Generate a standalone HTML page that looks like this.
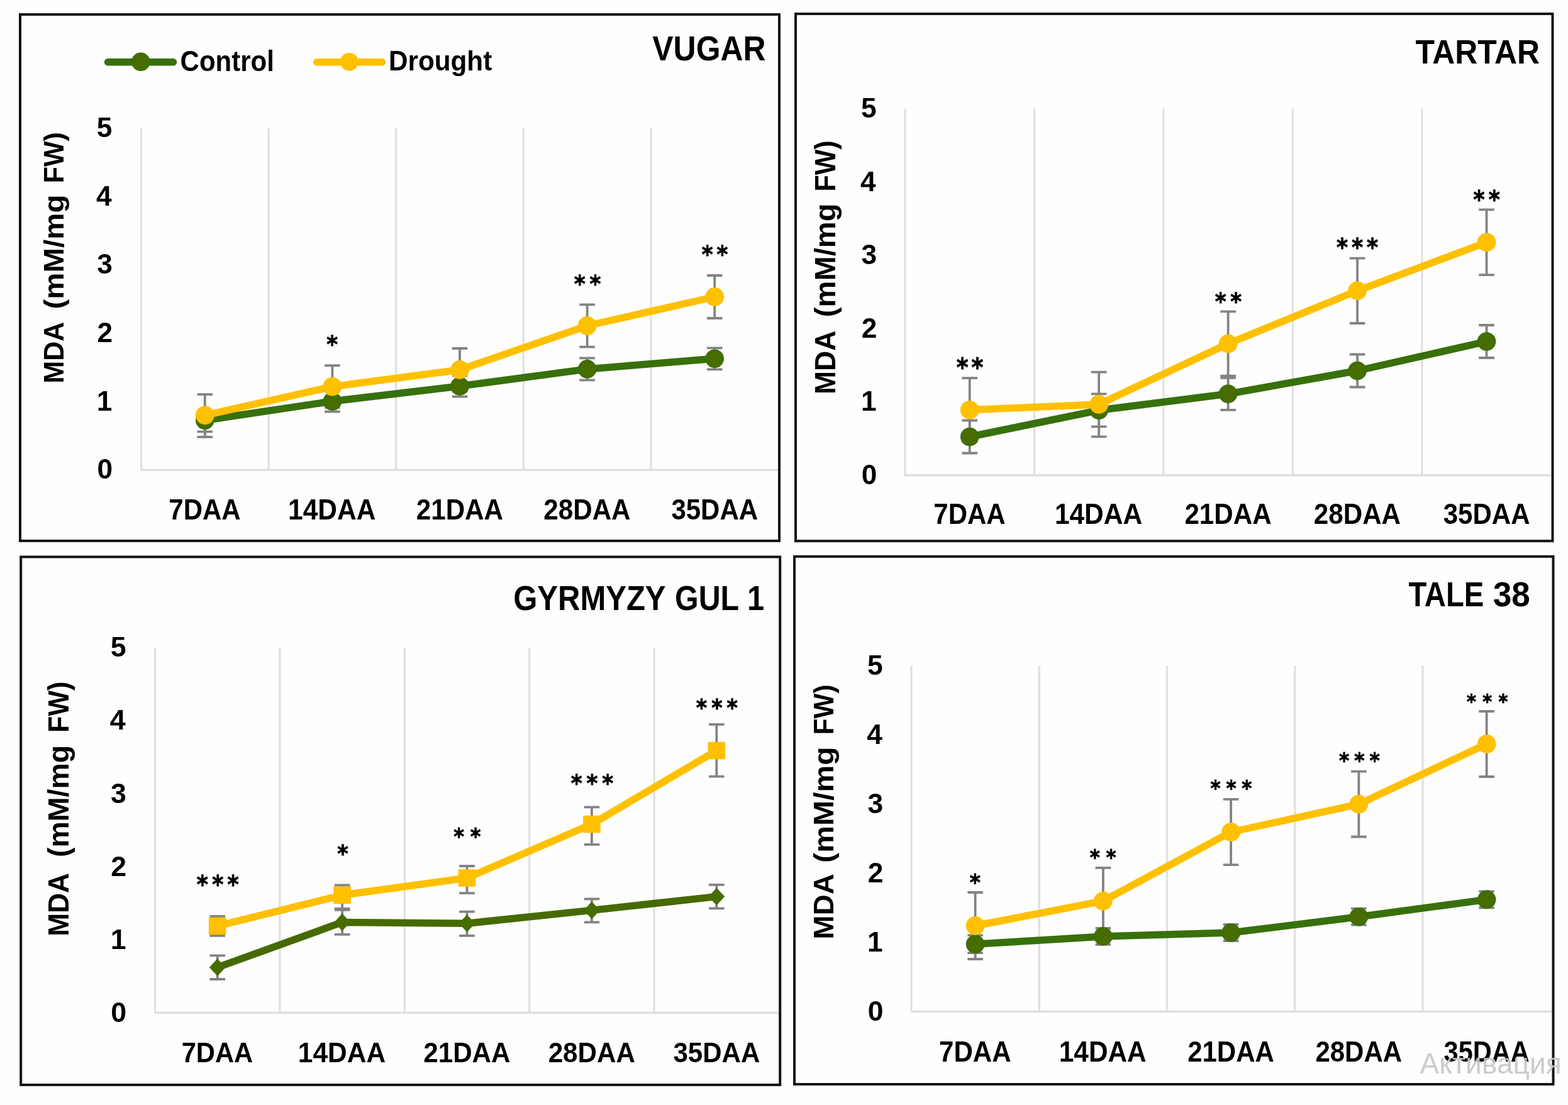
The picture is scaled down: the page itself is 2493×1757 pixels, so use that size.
<!DOCTYPE html>
<html><head><meta charset="utf-8"><title>MDA content under drought</title>
<style>html,body{margin:0;padding:0;background:#fff;}body{width:2493px;height:1757px;overflow:hidden;}svg{display:block;filter:blur(0.55px)}</style>
</head><body>
<svg width="2493" height="1757" viewBox="0 0 2493 1757">
<rect width="2493" height="1757" fill="#fefefe"/>
<rect x="32" y="23" width="1207" height="837" fill="none" stroke="#141414" stroke-width="4"/>
<line x1="224.5" y1="203.7" x2="224.5" y2="747.2" stroke="#e0e0e0" stroke-width="3.2"/>
<line x1="427.1" y1="203.7" x2="427.1" y2="747.2" stroke="#e0e0e0" stroke-width="3.2"/>
<line x1="629.7" y1="203.7" x2="629.7" y2="747.2" stroke="#e0e0e0" stroke-width="3.2"/>
<line x1="832.3" y1="203.7" x2="832.3" y2="747.2" stroke="#e0e0e0" stroke-width="3.2"/>
<line x1="1034.9" y1="203.7" x2="1034.9" y2="747.2" stroke="#e0e0e0" stroke-width="3.2"/>
<line x1="223.25" y1="747.2" x2="1237" y2="747.2" stroke="#e0e0e0" stroke-width="3.6"/>
<text x="154.54" y="761.45" font-family="'Liberation Sans', Arial, sans-serif" font-weight="bold" font-size="44.2" fill="#000">0</text>
<text x="153.87" y="652.75" font-family="'Liberation Sans', Arial, sans-serif" font-weight="bold" font-size="44.2" fill="#000">1</text>
<text x="154.54" y="544.05" font-family="'Liberation Sans', Arial, sans-serif" font-weight="bold" font-size="44.2" fill="#000">2</text>
<text x="154.31" y="435.35" font-family="'Liberation Sans', Arial, sans-serif" font-weight="bold" font-size="44.2" fill="#000">3</text>
<text x="152.99" y="326.65" font-family="'Liberation Sans', Arial, sans-serif" font-weight="bold" font-size="44.2" fill="#000">4</text>
<text x="153.87" y="217.95" font-family="'Liberation Sans', Arial, sans-serif" font-weight="bold" font-size="44.2" fill="#000">5</text>
<text transform="translate(100.5,609.38) rotate(-90)" x="0" y="0" font-family="'Liberation Sans', Arial, sans-serif" font-weight="bold" font-size="44.2" fill="#000" textLength="97.55" lengthAdjust="spacingAndGlyphs" style="white-space:pre">MDA</text>
<text transform="translate(100.5,491.56) rotate(-90)" x="0" y="0" font-family="'Liberation Sans', Arial, sans-serif" font-weight="bold" font-size="44.2" fill="#000" textLength="182.02" lengthAdjust="spacingAndGlyphs" style="white-space:pre">(mM/mg</text>
<text transform="translate(100.5,291.19) rotate(-90)" x="0" y="0" font-family="'Liberation Sans', Arial, sans-serif" font-weight="bold" font-size="44.2" fill="#000" textLength="81.04" lengthAdjust="spacingAndGlyphs" style="white-space:pre">FW)</text>
<text x="268.37" y="825.6" font-family="'Liberation Sans', Arial, sans-serif" font-weight="bold" font-size="46.67" fill="#000" textLength="114.34" lengthAdjust="spacingAndGlyphs" >7DAA</text>
<text x="458.1" y="825.6" font-family="'Liberation Sans', Arial, sans-serif" font-weight="bold" font-size="46.67" fill="#000" textLength="139.28" lengthAdjust="spacingAndGlyphs" >14DAA</text>
<text x="661.77" y="825.6" font-family="'Liberation Sans', Arial, sans-serif" font-weight="bold" font-size="46.67" fill="#000" textLength="138.19" lengthAdjust="spacingAndGlyphs" >21DAA</text>
<text x="864.37" y="825.6" font-family="'Liberation Sans', Arial, sans-serif" font-weight="bold" font-size="46.67" fill="#000" textLength="138.19" lengthAdjust="spacingAndGlyphs" >28DAA</text>
<text x="1067.4" y="825.6" font-family="'Liberation Sans', Arial, sans-serif" font-weight="bold" font-size="46.67" fill="#000" textLength="137.76" lengthAdjust="spacingAndGlyphs" >35DAA</text>
<text x="1037.35" y="96.4" font-family="'Liberation Sans', Arial, sans-serif" font-weight="bold" font-size="55.22" fill="#000" textLength="180.12" lengthAdjust="spacingAndGlyphs" >VUGAR</text>
<path d="M325.8,653.7V686.3M313.5,653.7H338.1M313.5,686.3H338.1" stroke="#838383" stroke-width="3.8" fill="none"/>
<path d="M325.8,627.2V694.8M313.5,627.2H338.1M313.5,694.8H338.1" stroke="#838383" stroke-width="3.8" fill="none"/>
<path d="M528.4,621.5V654.5M516.1,621.5H540.7M516.1,654.5H540.7" stroke="#838383" stroke-width="3.8" fill="none"/>
<path d="M528.4,581.2V648.2M516.1,581.2H540.7M516.1,648.2H540.7" stroke="#838383" stroke-width="3.8" fill="none"/>
<path d="M731,597.3V630.7M718.7,597.3H743.3M718.7,630.7H743.3" stroke="#838383" stroke-width="3.8" fill="none"/>
<path d="M731,554V622M718.7,554H743.3M718.7,622H743.3" stroke="#838383" stroke-width="3.8" fill="none"/>
<path d="M933.6,569.4V604.4M921.3,569.4H945.9M921.3,604.4H945.9" stroke="#838383" stroke-width="3.8" fill="none"/>
<path d="M933.6,484.3V551.7M921.3,484.3H945.9M921.3,551.7H945.9" stroke="#838383" stroke-width="3.8" fill="none"/>
<path d="M1136.2,553.3V587.3M1123.9,553.3H1148.5M1123.9,587.3H1148.5" stroke="#838383" stroke-width="3.8" fill="none"/>
<path d="M1136.2,438V506M1123.9,438H1148.5M1123.9,506H1148.5" stroke="#838383" stroke-width="3.8" fill="none"/>
<polyline points="325.8,668.2 528.4,638 731,614 933.6,586.9 1136.2,570.3" fill="none" stroke="#38700c" stroke-width="11.5" stroke-linejoin="round" stroke-linecap="round"/>
<circle cx="325.8" cy="668.2" r="13.8" fill="#476c00" stroke="#38700c" stroke-width="2"/>
<circle cx="528.4" cy="638" r="13.8" fill="#476c00" stroke="#38700c" stroke-width="2"/>
<circle cx="731" cy="614" r="13.8" fill="#476c00" stroke="#38700c" stroke-width="2"/>
<circle cx="933.6" cy="586.9" r="13.8" fill="#476c00" stroke="#38700c" stroke-width="2"/>
<circle cx="1136.2" cy="570.3" r="13.8" fill="#476c00" stroke="#38700c" stroke-width="2"/>
<polyline points="325.8,660.3 528.4,614.7 731,588 933.6,518 1136.2,472" fill="none" stroke="#ffc000" stroke-width="11.5" stroke-linejoin="round" stroke-linecap="round"/>
<circle cx="325.8" cy="660.3" r="14.9" fill="#ffc000"/>
<circle cx="528.4" cy="614.7" r="14.9" fill="#ffc000"/>
<circle cx="731" cy="588" r="14.9" fill="#ffc000"/>
<circle cx="933.6" cy="518" r="14.9" fill="#ffc000"/>
<circle cx="1136.2" cy="472" r="14.9" fill="#ffc000"/>
<text transform="translate(528,560.46) scale(0.9,1)" x="-9.84" y="0" font-family="'DejaVu Sans', 'Liberation Sans', sans-serif" font-weight="bold" font-size="37.85" fill="#000" stroke="#000" stroke-width="0.9" stroke-linejoin="round">*</text>
<text transform="translate(921.63,463.62) scale(0.9,1)" x="-9.9" y="0" font-family="'DejaVu Sans', 'Liberation Sans', sans-serif" font-weight="bold" font-size="38.06" fill="#000" stroke="#000" stroke-width="0.9" stroke-linejoin="round">*</text>
<text transform="translate(946.37,463.62) scale(0.9,1)" x="-9.9" y="0" font-family="'DejaVu Sans', 'Liberation Sans', sans-serif" font-weight="bold" font-size="38.06" fill="#000" stroke="#000" stroke-width="0.9" stroke-linejoin="round">*</text>
<text transform="translate(1124.58,417.46) scale(0.9,1)" x="-9.84" y="0" font-family="'DejaVu Sans', 'Liberation Sans', sans-serif" font-weight="bold" font-size="37.85" fill="#000" stroke="#000" stroke-width="0.9" stroke-linejoin="round">*</text>
<text transform="translate(1148.42,417.46) scale(0.9,1)" x="-9.84" y="0" font-family="'DejaVu Sans', 'Liberation Sans', sans-serif" font-weight="bold" font-size="37.85" fill="#000" stroke="#000" stroke-width="0.9" stroke-linejoin="round">*</text>
<rect x="1265" y="22" width="1203.5" height="838.2" fill="none" stroke="#141414" stroke-width="4"/>
<line x1="1439" y1="172.7" x2="1439" y2="755.6" stroke="#e0e0e0" stroke-width="3.2"/>
<line x1="1644.45" y1="172.7" x2="1644.45" y2="755.6" stroke="#e0e0e0" stroke-width="3.2"/>
<line x1="1849.9" y1="172.7" x2="1849.9" y2="755.6" stroke="#e0e0e0" stroke-width="3.2"/>
<line x1="2055.35" y1="172.7" x2="2055.35" y2="755.6" stroke="#e0e0e0" stroke-width="3.2"/>
<line x1="2260.8" y1="172.7" x2="2260.8" y2="755.6" stroke="#e0e0e0" stroke-width="3.2"/>
<line x1="1437.75" y1="755.6" x2="2466" y2="755.6" stroke="#e0e0e0" stroke-width="3.6"/>
<text x="1369.64" y="769.85" font-family="'Liberation Sans', Arial, sans-serif" font-weight="bold" font-size="44.2" fill="#000">0</text>
<text x="1368.97" y="653.27" font-family="'Liberation Sans', Arial, sans-serif" font-weight="bold" font-size="44.2" fill="#000">1</text>
<text x="1369.64" y="536.69" font-family="'Liberation Sans', Arial, sans-serif" font-weight="bold" font-size="44.2" fill="#000">2</text>
<text x="1369.41" y="420.11" font-family="'Liberation Sans', Arial, sans-serif" font-weight="bold" font-size="44.2" fill="#000">3</text>
<text x="1368.09" y="303.53" font-family="'Liberation Sans', Arial, sans-serif" font-weight="bold" font-size="44.2" fill="#000">4</text>
<text x="1368.97" y="186.95" font-family="'Liberation Sans', Arial, sans-serif" font-weight="bold" font-size="44.2" fill="#000">5</text>
<text transform="translate(1327.5,627.09) rotate(-90)" x="0" y="0" font-family="'Liberation Sans', Arial, sans-serif" font-weight="bold" font-size="45.65" fill="#000" textLength="101.4" lengthAdjust="spacingAndGlyphs" style="white-space:pre">MDA</text>
<text transform="translate(1327.5,504.15) rotate(-90)" x="0" y="0" font-family="'Liberation Sans', Arial, sans-serif" font-weight="bold" font-size="45.65" fill="#000" textLength="180.59" lengthAdjust="spacingAndGlyphs" style="white-space:pre">(mM/mg</text>
<text transform="translate(1327.5,304.61) rotate(-90)" x="0" y="0" font-family="'Liberation Sans', Arial, sans-serif" font-weight="bold" font-size="45.65" fill="#000" textLength="81.16" lengthAdjust="spacingAndGlyphs" style="white-space:pre">FW)</text>
<text x="1484.3" y="832.6" font-family="'Liberation Sans', Arial, sans-serif" font-weight="bold" font-size="45.8" fill="#000" textLength="114.34" lengthAdjust="spacingAndGlyphs" >7DAA</text>
<text x="1676.88" y="832.6" font-family="'Liberation Sans', Arial, sans-serif" font-weight="bold" font-size="45.8" fill="#000" textLength="139.28" lengthAdjust="spacingAndGlyphs" >14DAA</text>
<text x="1883.4" y="832.6" font-family="'Liberation Sans', Arial, sans-serif" font-weight="bold" font-size="45.8" fill="#000" textLength="138.19" lengthAdjust="spacingAndGlyphs" >21DAA</text>
<text x="2088.85" y="832.6" font-family="'Liberation Sans', Arial, sans-serif" font-weight="bold" font-size="45.8" fill="#000" textLength="138.19" lengthAdjust="spacingAndGlyphs" >28DAA</text>
<text x="2294.72" y="832.6" font-family="'Liberation Sans', Arial, sans-serif" font-weight="bold" font-size="45.8" fill="#000" textLength="137.76" lengthAdjust="spacingAndGlyphs" >35DAA</text>
<text x="2250.4" y="100.7" font-family="'Liberation Sans', Arial, sans-serif" font-weight="bold" font-size="54.49" fill="#000" textLength="197.6" lengthAdjust="spacingAndGlyphs" >TARTAR</text>
<path d="M1541.72,668.5V720.5M1529.42,668.5H1554.02M1529.42,720.5H1554.02" stroke="#838383" stroke-width="3.8" fill="none"/>
<path d="M1541.72,601.2V702.4M1529.42,601.2H1554.02M1529.42,702.4H1554.02" stroke="#838383" stroke-width="3.8" fill="none"/>
<path d="M1747.17,626.3V678.3M1734.88,626.3H1759.47M1734.88,678.3H1759.47" stroke="#838383" stroke-width="3.8" fill="none"/>
<path d="M1747.17,591.7V694.3M1734.88,591.7H1759.47M1734.88,694.3H1759.47" stroke="#838383" stroke-width="3.8" fill="none"/>
<path d="M1952.62,600.8V651.8M1940.33,600.8H1964.92M1940.33,651.8H1964.92" stroke="#838383" stroke-width="3.8" fill="none"/>
<path d="M1952.62,495.3V597.7M1940.33,495.3H1964.92M1940.33,597.7H1964.92" stroke="#838383" stroke-width="3.8" fill="none"/>
<path d="M2158.07,563.5V615.5M2145.77,563.5H2170.38M2145.77,615.5H2170.38" stroke="#838383" stroke-width="3.8" fill="none"/>
<path d="M2158.07,410.6V514M2145.77,410.6H2170.38M2145.77,514H2170.38" stroke="#838383" stroke-width="3.8" fill="none"/>
<path d="M2363.53,517V569M2351.22,517H2375.83M2351.22,569H2375.83" stroke="#838383" stroke-width="3.8" fill="none"/>
<path d="M2363.53,333.4V437.2M2351.22,333.4H2375.83M2351.22,437.2H2375.83" stroke="#838383" stroke-width="3.8" fill="none"/>
<polyline points="1541.72,694.5 1747.17,652.3 1952.62,626.3 2158.07,589.5 2363.53,543" fill="none" stroke="#38700c" stroke-width="11.5" stroke-linejoin="round" stroke-linecap="round"/>
<circle cx="1541.72" cy="694.5" r="13.8" fill="#476c00" stroke="#38700c" stroke-width="2"/>
<circle cx="1747.17" cy="652.3" r="13.8" fill="#476c00" stroke="#38700c" stroke-width="2"/>
<circle cx="1952.62" cy="626.3" r="13.8" fill="#476c00" stroke="#38700c" stroke-width="2"/>
<circle cx="2158.07" cy="589.5" r="13.8" fill="#476c00" stroke="#38700c" stroke-width="2"/>
<circle cx="2363.53" cy="543" r="13.8" fill="#476c00" stroke="#38700c" stroke-width="2"/>
<polyline points="1541.72,651.8 1747.17,643 1952.62,546.5 2158.07,462.3 2363.53,385.3" fill="none" stroke="#ffc000" stroke-width="11.5" stroke-linejoin="round" stroke-linecap="round"/>
<circle cx="1541.72" cy="651.8" r="14.9" fill="#ffc000"/>
<circle cx="1747.17" cy="643" r="14.9" fill="#ffc000"/>
<circle cx="1952.62" cy="546.5" r="14.9" fill="#ffc000"/>
<circle cx="2158.07" cy="462.3" r="14.9" fill="#ffc000"/>
<circle cx="2363.53" cy="385.3" r="14.9" fill="#ffc000"/>
<text transform="translate(1530.05,598.35) scale(0.9,1)" x="-10.4" y="0" font-family="'DejaVu Sans', 'Liberation Sans', sans-serif" font-weight="bold" font-size="40" fill="#000" stroke="#000" stroke-width="0.9" stroke-linejoin="round">*</text>
<text transform="translate(1553.96,598.35) scale(0.9,1)" x="-10.4" y="0" font-family="'DejaVu Sans', 'Liberation Sans', sans-serif" font-weight="bold" font-size="40" fill="#000" stroke="#000" stroke-width="0.9" stroke-linejoin="round">*</text>
<text transform="translate(1940.58,491.66) scale(0.9,1)" x="-9.84" y="0" font-family="'DejaVu Sans', 'Liberation Sans', sans-serif" font-weight="bold" font-size="37.85" fill="#000" stroke="#000" stroke-width="0.9" stroke-linejoin="round">*</text>
<text transform="translate(1965.22,491.66) scale(0.9,1)" x="-9.84" y="0" font-family="'DejaVu Sans', 'Liberation Sans', sans-serif" font-weight="bold" font-size="37.85" fill="#000" stroke="#000" stroke-width="0.9" stroke-linejoin="round">*</text>
<text transform="translate(2134.12,406.84) scale(0.9,1)" x="-10.01" y="0" font-family="'DejaVu Sans', 'Liberation Sans', sans-serif" font-weight="bold" font-size="38.49" fill="#000" stroke="#000" stroke-width="0.9" stroke-linejoin="round">*</text>
<text transform="translate(2158,406.84) scale(0.9,1)" x="-10.01" y="0" font-family="'DejaVu Sans', 'Liberation Sans', sans-serif" font-weight="bold" font-size="38.49" fill="#000" stroke="#000" stroke-width="0.9" stroke-linejoin="round">*</text>
<text transform="translate(2181.88,406.84) scale(0.9,1)" x="-10.01" y="0" font-family="'DejaVu Sans', 'Liberation Sans', sans-serif" font-weight="bold" font-size="38.49" fill="#000" stroke="#000" stroke-width="0.9" stroke-linejoin="round">*</text>
<text transform="translate(2351.62,330.64) scale(0.9,1)" x="-10.01" y="0" font-family="'DejaVu Sans', 'Liberation Sans', sans-serif" font-weight="bold" font-size="38.49" fill="#000" stroke="#000" stroke-width="0.9" stroke-linejoin="round">*</text>
<text transform="translate(2375.68,330.64) scale(0.9,1)" x="-10.01" y="0" font-family="'DejaVu Sans', 'Liberation Sans', sans-serif" font-weight="bold" font-size="38.49" fill="#000" stroke="#000" stroke-width="0.9" stroke-linejoin="round">*</text>
<rect x="33.2" y="885.5" width="1207" height="839.5" fill="none" stroke="#141414" stroke-width="4"/>
<line x1="246.5" y1="1030" x2="246.5" y2="1610.4" stroke="#e0e0e0" stroke-width="3.2"/>
<line x1="444.9" y1="1030" x2="444.9" y2="1610.4" stroke="#e0e0e0" stroke-width="3.2"/>
<line x1="643.3" y1="1030" x2="643.3" y2="1610.4" stroke="#e0e0e0" stroke-width="3.2"/>
<line x1="841.7" y1="1030" x2="841.7" y2="1610.4" stroke="#e0e0e0" stroke-width="3.2"/>
<line x1="1040.1" y1="1030" x2="1040.1" y2="1610.4" stroke="#e0e0e0" stroke-width="3.2"/>
<line x1="245.25" y1="1610.4" x2="1238" y2="1610.4" stroke="#e0e0e0" stroke-width="3.6"/>
<text x="176.31" y="1624.8" font-family="'Liberation Sans', Arial, sans-serif" font-weight="bold" font-size="44.64" fill="#000">0</text>
<text x="175.64" y="1508.72" font-family="'Liberation Sans', Arial, sans-serif" font-weight="bold" font-size="44.64" fill="#000">1</text>
<text x="176.31" y="1392.64" font-family="'Liberation Sans', Arial, sans-serif" font-weight="bold" font-size="44.64" fill="#000">2</text>
<text x="176.09" y="1276.56" font-family="'Liberation Sans', Arial, sans-serif" font-weight="bold" font-size="44.64" fill="#000">3</text>
<text x="174.75" y="1160.48" font-family="'Liberation Sans', Arial, sans-serif" font-weight="bold" font-size="44.64" fill="#000">4</text>
<text x="175.64" y="1044.4" font-family="'Liberation Sans', Arial, sans-serif" font-weight="bold" font-size="44.64" fill="#000">5</text>
<text transform="translate(109,1488.78) rotate(-90)" x="0" y="0" font-family="'Liberation Sans', Arial, sans-serif" font-weight="bold" font-size="45.36" fill="#000" textLength="100.89" lengthAdjust="spacingAndGlyphs" style="white-space:pre">MDA</text>
<text transform="translate(109,1363.03) rotate(-90)" x="0" y="0" font-family="'Liberation Sans', Arial, sans-serif" font-weight="bold" font-size="45.36" fill="#000" textLength="178.29" lengthAdjust="spacingAndGlyphs" style="white-space:pre">(mM/mg</text>
<text transform="translate(109,1164.68) rotate(-90)" x="0" y="0" font-family="'Liberation Sans', Arial, sans-serif" font-weight="bold" font-size="45.36" fill="#000" textLength="80.83" lengthAdjust="spacingAndGlyphs" style="white-space:pre">FW)</text>
<text x="288.68" y="1688.5" font-family="'Liberation Sans', Arial, sans-serif" font-weight="bold" font-size="44.49" fill="#000" textLength="113.52" lengthAdjust="spacingAndGlyphs" >7DAA</text>
<text x="473.8" y="1688.5" font-family="'Liberation Sans', Arial, sans-serif" font-weight="bold" font-size="44.49" fill="#000" textLength="139.28" lengthAdjust="spacingAndGlyphs" >14DAA</text>
<text x="673.27" y="1688.5" font-family="'Liberation Sans', Arial, sans-serif" font-weight="bold" font-size="44.49" fill="#000" textLength="138.19" lengthAdjust="spacingAndGlyphs" >21DAA</text>
<text x="871.67" y="1688.5" font-family="'Liberation Sans', Arial, sans-serif" font-weight="bold" font-size="44.49" fill="#000" textLength="138.19" lengthAdjust="spacingAndGlyphs" >28DAA</text>
<text x="1070.5" y="1688.5" font-family="'Liberation Sans', Arial, sans-serif" font-weight="bold" font-size="44.49" fill="#000" textLength="137.76" lengthAdjust="spacingAndGlyphs" >35DAA</text>
<text x="816.24" y="970.4" font-family="'Liberation Sans', Arial, sans-serif" font-weight="bold" font-size="55.65" fill="#000" textLength="242.29" lengthAdjust="spacingAndGlyphs" >GYRMYZY</text>
<text x="1073.06" y="970.4" font-family="'Liberation Sans', Arial, sans-serif" font-weight="bold" font-size="55.65" fill="#000" textLength="102.13" lengthAdjust="spacingAndGlyphs" >GUL</text>
<text x="1188.06" y="970.4" font-family="'Liberation Sans', Arial, sans-serif" font-weight="bold" font-size="55.65" fill="#000" textLength="27.22" lengthAdjust="spacingAndGlyphs" >1</text>
<path d="M345.7,1519.4V1557M333.4,1519.4H358M333.4,1557H358" stroke="#838383" stroke-width="3.8" fill="none"/>
<path d="M345.7,1457V1487.8M333.4,1457H358M333.4,1487.8H358" stroke="#838383" stroke-width="3.8" fill="none"/>
<path d="M544.1,1446.9V1485.9M531.8,1446.9H556.4M531.8,1485.9H556.4" stroke="#838383" stroke-width="3.8" fill="none"/>
<path d="M544.1,1407.5V1444.8M531.8,1407.5H556.4M531.8,1444.8H556.4" stroke="#838383" stroke-width="3.8" fill="none"/>
<path d="M742.5,1449.7V1487.9M730.2,1449.7H754.8M730.2,1487.9H754.8" stroke="#838383" stroke-width="3.8" fill="none"/>
<path d="M742.5,1377V1420.1M730.2,1377H754.8M730.2,1420.1H754.8" stroke="#838383" stroke-width="3.8" fill="none"/>
<path d="M940.9,1429.3V1466.4M928.6,1429.3H953.2M928.6,1466.4H953.2" stroke="#838383" stroke-width="3.8" fill="none"/>
<path d="M940.9,1283.3V1342.9M928.6,1283.3H953.2M928.6,1342.9H953.2" stroke="#838383" stroke-width="3.8" fill="none"/>
<path d="M1139.3,1406.8V1444.4M1127,1406.8H1151.6M1127,1444.4H1151.6" stroke="#838383" stroke-width="3.8" fill="none"/>
<path d="M1139.3,1151.9V1234.7M1127,1151.9H1151.6M1127,1234.7H1151.6" stroke="#838383" stroke-width="3.8" fill="none"/>
<polyline points="345.7,1538.2 544.1,1466.4 742.5,1468.2 940.9,1447.4 1139.3,1425.6" fill="none" stroke="#466a00" stroke-width="11.5" stroke-linejoin="round" stroke-linecap="round"/>
<path d="M345.7,1524.3L358.6,1538.2L345.7,1552.1L332.8,1538.2Z" fill="#476c00"/>
<path d="M544.1,1452.5L557,1466.4L544.1,1480.3L531.2,1466.4Z" fill="#476c00"/>
<path d="M742.5,1454.3L755.4,1468.2L742.5,1482.1L729.6,1468.2Z" fill="#476c00"/>
<path d="M940.9,1433.5L953.8,1447.4L940.9,1461.3L928,1447.4Z" fill="#476c00"/>
<path d="M1139.3,1411.7L1152.2,1425.6L1139.3,1439.5L1126.4,1425.6Z" fill="#476c00"/>
<polyline points="345.7,1472.4 544.1,1423.3 742.5,1396 940.9,1310.5 1139.3,1193.5" fill="none" stroke="#ffc000" stroke-width="11.5" stroke-linejoin="round" stroke-linecap="round"/>
<rect x="331.9" y="1458.6" width="27.6" height="27.6" fill="#ffc000"/>
<rect x="530.3" y="1409.5" width="27.6" height="27.6" fill="#ffc000"/>
<rect x="728.7" y="1382.2" width="27.6" height="27.6" fill="#ffc000"/>
<rect x="927.1" y="1296.7" width="27.6" height="27.6" fill="#ffc000"/>
<rect x="1125.5" y="1179.7" width="27.6" height="27.6" fill="#ffc000"/>
<text transform="translate(321.72,1419.84) scale(0.9,1)" x="-10.01" y="0" font-family="'DejaVu Sans', 'Liberation Sans', sans-serif" font-weight="bold" font-size="38.49" fill="#000" stroke="#000" stroke-width="0.9" stroke-linejoin="round">*</text>
<text transform="translate(346.15,1419.84) scale(0.9,1)" x="-10.01" y="0" font-family="'DejaVu Sans', 'Liberation Sans', sans-serif" font-weight="bold" font-size="38.49" fill="#000" stroke="#000" stroke-width="0.9" stroke-linejoin="round">*</text>
<text transform="translate(370.58,1419.84) scale(0.9,1)" x="-10.01" y="0" font-family="'DejaVu Sans', 'Liberation Sans', sans-serif" font-weight="bold" font-size="38.49" fill="#000" stroke="#000" stroke-width="0.9" stroke-linejoin="round">*</text>
<text transform="translate(544.9,1369.78) scale(0.9,1)" x="-9.67" y="0" font-family="'DejaVu Sans', 'Liberation Sans', sans-serif" font-weight="bold" font-size="37.2" fill="#000" stroke="#000" stroke-width="0.9" stroke-linejoin="round">*</text>
<text transform="translate(729.47,1341.51) scale(0.9,1)" x="-9.23" y="0" font-family="'DejaVu Sans', 'Liberation Sans', sans-serif" font-weight="bold" font-size="35.48" fill="#000" stroke="#000" stroke-width="0.9" stroke-linejoin="round">*</text>
<text transform="translate(755.93,1341.51) scale(0.9,1)" x="-9.23" y="0" font-family="'DejaVu Sans', 'Liberation Sans', sans-serif" font-weight="bold" font-size="35.48" fill="#000" stroke="#000" stroke-width="0.9" stroke-linejoin="round">*</text>
<text transform="translate(916.58,1258.26) scale(0.9,1)" x="-9.84" y="0" font-family="'DejaVu Sans', 'Liberation Sans', sans-serif" font-weight="bold" font-size="37.85" fill="#000" stroke="#000" stroke-width="0.9" stroke-linejoin="round">*</text>
<text transform="translate(941.35,1258.26) scale(0.9,1)" x="-9.84" y="0" font-family="'DejaVu Sans', 'Liberation Sans', sans-serif" font-weight="bold" font-size="37.85" fill="#000" stroke="#000" stroke-width="0.9" stroke-linejoin="round">*</text>
<text transform="translate(966.12,1258.26) scale(0.9,1)" x="-9.84" y="0" font-family="'DejaVu Sans', 'Liberation Sans', sans-serif" font-weight="bold" font-size="37.85" fill="#000" stroke="#000" stroke-width="0.9" stroke-linejoin="round">*</text>
<text transform="translate(1115.35,1138.06) scale(0.9,1)" x="-9.56" y="0" font-family="'DejaVu Sans', 'Liberation Sans', sans-serif" font-weight="bold" font-size="36.77" fill="#000" stroke="#000" stroke-width="0.9" stroke-linejoin="round">*</text>
<text transform="translate(1139.75,1138.06) scale(0.9,1)" x="-9.56" y="0" font-family="'DejaVu Sans', 'Liberation Sans', sans-serif" font-weight="bold" font-size="36.77" fill="#000" stroke="#000" stroke-width="0.9" stroke-linejoin="round">*</text>
<text transform="translate(1164.15,1138.06) scale(0.9,1)" x="-9.56" y="0" font-family="'DejaVu Sans', 'Liberation Sans', sans-serif" font-weight="bold" font-size="36.77" fill="#000" stroke="#000" stroke-width="0.9" stroke-linejoin="round">*</text>
<rect x="1263" y="884.9" width="1206.5" height="839.1" fill="none" stroke="#141414" stroke-width="4"/>
<line x1="1449" y1="1058.4" x2="1449" y2="1608.4" stroke="#e0e0e0" stroke-width="3.2"/>
<line x1="1652.25" y1="1058.4" x2="1652.25" y2="1608.4" stroke="#e0e0e0" stroke-width="3.2"/>
<line x1="1855.5" y1="1058.4" x2="1855.5" y2="1608.4" stroke="#e0e0e0" stroke-width="3.2"/>
<line x1="2058.75" y1="1058.4" x2="2058.75" y2="1608.4" stroke="#e0e0e0" stroke-width="3.2"/>
<line x1="2262" y1="1058.4" x2="2262" y2="1608.4" stroke="#e0e0e0" stroke-width="3.2"/>
<line x1="1447.75" y1="1608.4" x2="2467" y2="1608.4" stroke="#e0e0e0" stroke-width="3.6"/>
<text x="1379.76" y="1622.7" font-family="'Liberation Sans', Arial, sans-serif" font-weight="bold" font-size="44.35" fill="#000">0</text>
<text x="1379.1" y="1512.7" font-family="'Liberation Sans', Arial, sans-serif" font-weight="bold" font-size="44.35" fill="#000">1</text>
<text x="1379.76" y="1402.7" font-family="'Liberation Sans', Arial, sans-serif" font-weight="bold" font-size="44.35" fill="#000">2</text>
<text x="1379.54" y="1292.7" font-family="'Liberation Sans', Arial, sans-serif" font-weight="bold" font-size="44.35" fill="#000">3</text>
<text x="1378.21" y="1182.7" font-family="'Liberation Sans', Arial, sans-serif" font-weight="bold" font-size="44.35" fill="#000">4</text>
<text x="1379.1" y="1072.7" font-family="'Liberation Sans', Arial, sans-serif" font-weight="bold" font-size="44.35" fill="#000">5</text>
<text transform="translate(1324.5,1493.47) rotate(-90)" x="0" y="0" font-family="'Liberation Sans', Arial, sans-serif" font-weight="bold" font-size="44.49" fill="#000" textLength="104.23" lengthAdjust="spacingAndGlyphs" style="white-space:pre">MDA</text>
<text transform="translate(1324.5,1371.91) rotate(-90)" x="0" y="0" font-family="'Liberation Sans', Arial, sans-serif" font-weight="bold" font-size="44.49" fill="#000" textLength="184.69" lengthAdjust="spacingAndGlyphs" style="white-space:pre">(mM/mg</text>
<text transform="translate(1324.5,1168.25) rotate(-90)" x="0" y="0" font-family="'Liberation Sans', Arial, sans-serif" font-weight="bold" font-size="44.49" fill="#000" textLength="79.76" lengthAdjust="spacingAndGlyphs" style="white-space:pre">FW)</text>
<text x="1493.09" y="1687.5" font-family="'Liberation Sans', Arial, sans-serif" font-weight="bold" font-size="45.94" fill="#000" textLength="114.55" lengthAdjust="spacingAndGlyphs" >7DAA</text>
<text x="1683.84" y="1687.5" font-family="'Liberation Sans', Arial, sans-serif" font-weight="bold" font-size="45.94" fill="#000" textLength="138.76" lengthAdjust="spacingAndGlyphs" >14DAA</text>
<text x="1888.16" y="1687.5" font-family="'Liberation Sans', Arial, sans-serif" font-weight="bold" font-size="45.94" fill="#000" textLength="137.68" lengthAdjust="spacingAndGlyphs" >21DAA</text>
<text x="2091.41" y="1687.5" font-family="'Liberation Sans', Arial, sans-serif" font-weight="bold" font-size="45.94" fill="#000" textLength="137.68" lengthAdjust="spacingAndGlyphs" >28DAA</text>
<text x="2295.59" y="1687.5" font-family="'Liberation Sans', Arial, sans-serif" font-weight="bold" font-size="45.94" fill="#000" textLength="136.24" lengthAdjust="spacingAndGlyphs" >35DAA</text>
<text x="2239.53" y="963.5" font-family="'Liberation Sans', Arial, sans-serif" font-weight="bold" font-size="55.36" fill="#000" textLength="119.81" lengthAdjust="spacingAndGlyphs" >TALE</text>
<text x="2373.88" y="963.5" font-family="'Liberation Sans', Arial, sans-serif" font-weight="bold" font-size="55.36" fill="#000" textLength="58.83" lengthAdjust="spacingAndGlyphs" >38</text>
<path d="M1550.62,1487.2V1515.2M1538.33,1487.2H1562.92M1538.33,1515.2H1562.92" stroke="#838383" stroke-width="3.8" fill="none"/>
<path d="M1550.62,1419V1525M1538.33,1419H1562.92M1538.33,1525H1562.92" stroke="#838383" stroke-width="3.8" fill="none"/>
<path d="M1753.88,1475.9V1501.9M1741.58,1475.9H1766.17M1741.58,1501.9H1766.17" stroke="#838383" stroke-width="3.8" fill="none"/>
<path d="M1753.88,1379.8V1485.4M1741.58,1379.8H1766.17M1741.58,1485.4H1766.17" stroke="#838383" stroke-width="3.8" fill="none"/>
<path d="M1957.12,1470V1496M1944.83,1470H1969.42M1944.83,1496H1969.42" stroke="#838383" stroke-width="3.8" fill="none"/>
<path d="M1957.12,1270.9V1375.1M1944.83,1270.9H1969.42M1944.83,1375.1H1969.42" stroke="#838383" stroke-width="3.8" fill="none"/>
<path d="M2160.38,1444.7V1470.7M2148.07,1444.7H2172.68M2148.07,1470.7H2172.68" stroke="#838383" stroke-width="3.8" fill="none"/>
<path d="M2160.38,1226.7V1330.5M2148.07,1226.7H2172.68M2148.07,1330.5H2172.68" stroke="#838383" stroke-width="3.8" fill="none"/>
<path d="M2363.62,1417.4V1443.4M2351.32,1417.4H2375.93M2351.32,1443.4H2375.93" stroke="#838383" stroke-width="3.8" fill="none"/>
<path d="M2363.62,1131V1235M2351.32,1131H2375.93M2351.32,1235H2375.93" stroke="#838383" stroke-width="3.8" fill="none"/>
<polyline points="1550.62,1501.2 1753.88,1488.9 1957.12,1483 2160.38,1457.7 2363.62,1430.4" fill="none" stroke="#38700c" stroke-width="11.5" stroke-linejoin="round" stroke-linecap="round"/>
<circle cx="1550.62" cy="1501.2" r="13.8" fill="#476c00" stroke="#38700c" stroke-width="2"/>
<circle cx="1753.88" cy="1488.9" r="13.8" fill="#476c00" stroke="#38700c" stroke-width="2"/>
<circle cx="1957.12" cy="1483" r="13.8" fill="#476c00" stroke="#38700c" stroke-width="2"/>
<circle cx="2160.38" cy="1457.7" r="13.8" fill="#476c00" stroke="#38700c" stroke-width="2"/>
<circle cx="2363.62" cy="1430.4" r="13.8" fill="#476c00" stroke="#38700c" stroke-width="2"/>
<polyline points="1550.62,1472 1753.88,1432.6 1957.12,1323 2160.38,1278.6 2363.62,1183" fill="none" stroke="#ffc000" stroke-width="11.5" stroke-linejoin="round" stroke-linecap="round"/>
<circle cx="1550.62" cy="1472" r="14.9" fill="#ffc000"/>
<circle cx="1753.88" cy="1432.6" r="14.9" fill="#ffc000"/>
<circle cx="1957.12" cy="1323" r="14.9" fill="#ffc000"/>
<circle cx="2160.38" cy="1278.6" r="14.9" fill="#ffc000"/>
<circle cx="2363.62" cy="1183" r="14.9" fill="#ffc000"/>
<text transform="translate(1550.3,1415.24) scale(0.9,1)" x="-9.45" y="0" font-family="'DejaVu Sans', 'Liberation Sans', sans-serif" font-weight="bold" font-size="36.34" fill="#000" stroke="#000" stroke-width="0.9" stroke-linejoin="round">*</text>
<text transform="translate(1740.79,1375.25) scale(0.9,1)" x="-8.89" y="0" font-family="'DejaVu Sans', 'Liberation Sans', sans-serif" font-weight="bold" font-size="34.19" fill="#000" stroke="#000" stroke-width="0.9" stroke-linejoin="round">*</text>
<text transform="translate(1766.41,1375.25) scale(0.9,1)" x="-8.89" y="0" font-family="'DejaVu Sans', 'Liberation Sans', sans-serif" font-weight="bold" font-size="34.19" fill="#000" stroke="#000" stroke-width="0.9" stroke-linejoin="round">*</text>
<text transform="translate(1932.59,1264.55) scale(0.9,1)" x="-8.89" y="0" font-family="'DejaVu Sans', 'Liberation Sans', sans-serif" font-weight="bold" font-size="34.19" fill="#000" stroke="#000" stroke-width="0.9" stroke-linejoin="round">*</text>
<text transform="translate(1957.4,1264.55) scale(0.9,1)" x="-8.89" y="0" font-family="'DejaVu Sans', 'Liberation Sans', sans-serif" font-weight="bold" font-size="34.19" fill="#000" stroke="#000" stroke-width="0.9" stroke-linejoin="round">*</text>
<text transform="translate(1982.21,1264.55) scale(0.9,1)" x="-8.89" y="0" font-family="'DejaVu Sans', 'Liberation Sans', sans-serif" font-weight="bold" font-size="34.19" fill="#000" stroke="#000" stroke-width="0.9" stroke-linejoin="round">*</text>
<text transform="translate(2137.04,1221.41) scale(0.9,1)" x="-8.95" y="0" font-family="'DejaVu Sans', 'Liberation Sans', sans-serif" font-weight="bold" font-size="34.41" fill="#000" stroke="#000" stroke-width="0.9" stroke-linejoin="round">*</text>
<text transform="translate(2161.25,1221.41) scale(0.9,1)" x="-8.95" y="0" font-family="'DejaVu Sans', 'Liberation Sans', sans-serif" font-weight="bold" font-size="34.41" fill="#000" stroke="#000" stroke-width="0.9" stroke-linejoin="round">*</text>
<text transform="translate(2185.46,1221.41) scale(0.9,1)" x="-8.95" y="0" font-family="'DejaVu Sans', 'Liberation Sans', sans-serif" font-weight="bold" font-size="34.41" fill="#000" stroke="#000" stroke-width="0.9" stroke-linejoin="round">*</text>
<text transform="translate(2339.43,1125.84) scale(0.9,1)" x="-8.22" y="0" font-family="'DejaVu Sans', 'Liberation Sans', sans-serif" font-weight="bold" font-size="31.61" fill="#000" stroke="#000" stroke-width="0.9" stroke-linejoin="round">*</text>
<text transform="translate(2364.6,1125.84) scale(0.9,1)" x="-8.22" y="0" font-family="'DejaVu Sans', 'Liberation Sans', sans-serif" font-weight="bold" font-size="31.61" fill="#000" stroke="#000" stroke-width="0.9" stroke-linejoin="round">*</text>
<text transform="translate(2389.77,1125.84) scale(0.9,1)" x="-8.22" y="0" font-family="'DejaVu Sans', 'Liberation Sans', sans-serif" font-weight="bold" font-size="31.61" fill="#000" stroke="#000" stroke-width="0.9" stroke-linejoin="round">*</text>
<line x1="171.5" y1="98.7" x2="275.5" y2="98.7" stroke="#38700c" stroke-width="11.5" stroke-linecap="round"/>
<circle cx="223.8" cy="98.3" r="13.8" fill="#476c00" stroke="#38700c" stroke-width="2"/>
<text x="286.62" y="112.9" font-family="'Liberation Sans', Arial, sans-serif" font-weight="bold" font-size="47.1" fill="#000" textLength="149.31" lengthAdjust="spacingAndGlyphs" >Control</text>
<line x1="503.6" y1="98.7" x2="607.6" y2="98.7" stroke="#ffc000" stroke-width="11.5" stroke-linecap="round"/>
<circle cx="555.3" cy="98.3" r="14.4" fill="#ffc000"/>
<text x="618.05" y="112.3" font-family="'Liberation Sans', Arial, sans-serif" font-weight="bold" font-size="44.49" fill="#000" textLength="164.19" lengthAdjust="spacingAndGlyphs" >Drought</text>
<text x="2257.5" y="1707" font-family="'Liberation Sans', Arial, sans-serif" font-weight="normal" font-size="45.65" fill="#c6c6c6" textLength="225.26" lengthAdjust="spacingAndGlyphs" opacity="0.9">Активация</text>
</svg>
</body></html>
